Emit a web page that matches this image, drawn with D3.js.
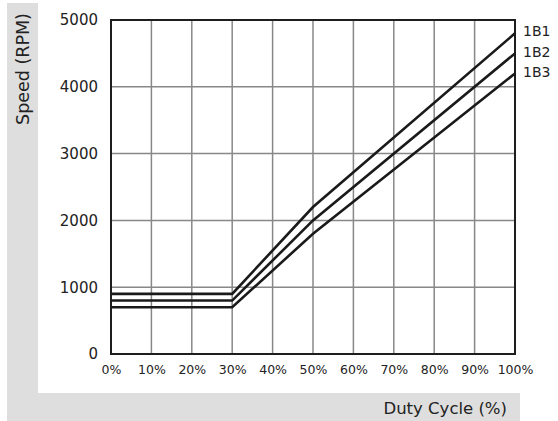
<!DOCTYPE html>
<html><head><meta charset="utf-8">
<script src="https://cdn.jsdelivr.net/npm/d3@7"></script>
<style>body{margin:0;background:#fff;}svg{display:block;}text{font-family:"DejaVu Sans",sans-serif;fill:#222;}</style>
</head><body><svg id="c" width="558" height="421"></svg>
<script>
const dutyCycle = [0, 30, 50, 100];
const series1B1 = [900, 900, 2200, 4800];
const series1B2 = [800, 800, 2000, 4500];
const series1B3 = [700, 700, 1800, 4200];
const seriesNames = ["1B1", "1B2", "1B3"];
const xTicks = [0,10,20,30,40,50,60,70,80,90,100];
const yTicks = [0,1000,2000,3000,4000,5000];

const svg = d3.select("#c");
svg.append("rect").attr("x",7).attr("y",3).attr("width",31).attr("height",418).attr("fill","#dedede");
svg.append("rect").attr("x",7).attr("y",393).attr("width",513).attr("height",28).attr("fill","#dedede");

const L=111, R=515, T=20, B=354;
const x = d3.scaleLinear().domain([0,100]).range([L,R]);
const y = d3.scaleLinear().domain([0,5000]).range([B,T]);

const g = svg.append("g");
g.selectAll(".vg").data(xTicks).enter().append("line")
 .attr("x1",d=>x(d)).attr("x2",d=>x(d)).attr("y1",T).attr("y2",B)
 .attr("stroke","#888").attr("stroke-width",1.5);
g.selectAll(".hg").data(yTicks).enter().append("line")
 .attr("x1",L).attr("x2",R).attr("y1",d=>y(d)).attr("y2",d=>y(d))
 .attr("stroke","#888").attr("stroke-width",1.5);

const xAxis = svg.append("g").attr("transform",`translate(0,${B})`)
 .call(d3.axisBottom(x).tickValues(xTicks).tickFormat(d=>d+"%").tickSize(0).tickPadding(11));
const yAxis = svg.append("g").attr("transform",`translate(${L},0)`)
 .call(d3.axisLeft(y).tickValues(yTicks).tickFormat(d=>String(d)).tickSize(0).tickPadding(13));
[xAxis,yAxis].forEach(a=>{a.attr("font-family",null).attr("font-size",null);a.select(".domain").remove();a.selectAll("text").style("font-size","12.5px").style("font-family","DejaVu Sans, sans-serif").attr("fill","#222");});
yAxis.selectAll("text").style("font-size","15px");

svg.append("rect").attr("x",L).attr("y",T).attr("width",R-L).attr("height",B-T)
 .attr("fill","none").attr("stroke","#1e1e1e").attr("stroke-width",2);

const line = d3.line().x(d=>x(d[0])).y(d=>y(d[1]));
[series1B1,series1B2,series1B3].forEach(s=>{
  svg.append("path").datum(dutyCycle.map((d,i)=>[d,s[i]])).attr("d",line)
   .attr("fill","none").attr("stroke","#1a1a1a").attr("stroke-width",2.6).attr("stroke-linejoin","miter");
});

svg.selectAll(".lab").data(seriesNames).enter().append("text")
 .attr("x",523).attr("y",(d,i)=>36+i*20.5).style("font-size","14px").text(d=>d);

svg.append("text").attr("transform","translate(29,69) rotate(-90)").attr("text-anchor","middle")
 .style("font-size","17.5px").text("Speed (RPM)");
svg.append("text").attr("x",507).attr("y",414).attr("text-anchor","end")
 .style("font-size","16.5px").text("Duty Cycle (%)");
</script></body></html>
